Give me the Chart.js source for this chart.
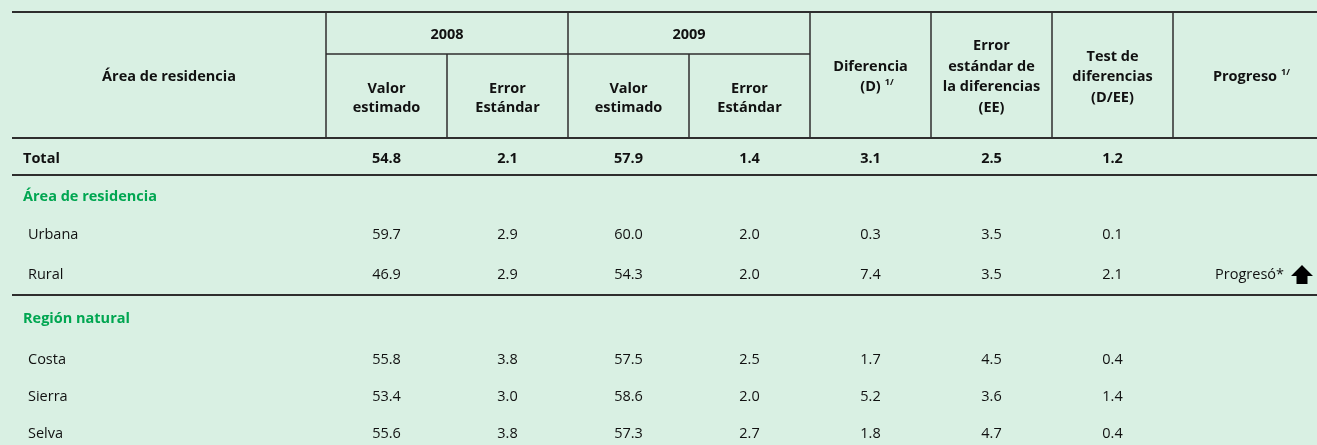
<!DOCTYPE html>
<html>
<head>
<meta charset="utf-8">
<script src="https://cdn.jsdelivr.net/npm/chart.js@4"></script>
<style>
  body { margin: 0; background: #d9f0e3; }
  #wrap { width: 1317px; height: 445px; }
</style>
</head>
<body>
<div id="wrap"><canvas id="tabla"></canvas></div>
<script>
const categories = ["Total", "Área de residencia", "Urbana", "Rural", "Región natural", "Costa", "Sierra", "Selva"];
const rowKinds = ["total", "section", "item", "item", "section", "item", "item", "item"];

const valor2008 = [54.8, null, 59.7, 46.9, null, 55.8, 53.4, 55.6];
const error2008 = [2.1, null, 2.9, 2.9, null, 3.8, 3.0, 3.8];
const valor2009 = [57.9, null, 60.0, 54.3, null, 57.5, 58.6, 57.3];
const error2009 = [1.4, null, 2.0, 2.0, null, 2.5, 2.0, 2.7];
const diferencia = [3.1, null, 0.3, 7.4, null, 1.7, 5.2, 1.8];
const errorDiferencia = [2.5, null, 3.5, 3.5, null, 4.5, 3.6, 4.7];
const testDiferencia = [1.2, null, 0.1, 2.1, null, 0.4, 1.4, 0.4];
const progreso = ["", null, "", "Progresó*", null, "", "", ""];

const years = ["2008", "2009"];
const headerTitles = [
  ["Área de residencia"],
  ["Valor", "estimado"],
  ["Error", "Estándar"],
  ["Valor", "estimado"],
  ["Error", "Estándar"],
  ["Diferencia", "(D)"],
  ["Error", "estándar de", "la diferencias", "(EE)"],
  ["Test de", "diferencias", "(D/EE)"],
  ["Progreso"]
];

// layout (pixels on the linear scales)
const colEdges = [12, 326, 447, 568, 689, 810, 931, 1052, 1173, 1317];
const rowY = [159, 197, 235, 275, 319, 360, 397, 434];
const lineTop = 12;
const lineYear = 54;
const lineHead = 138;
const rowRules = [175, 295];

const FONT = "'Open Sans', 'Noto Sans', sans-serif";
const SIZE = "14.5px ";
const TEXT = "#111111";
const GREEN = "#00a651";
const RULE = "#2e2e2e";

const valueColumns = [valor2008, error2008, valor2009, error2009, diferencia, errorDiferencia, testDiferencia];

function sup(ctx, text, x, y) {
  ctx.save();
  ctx.font = "bold 9px " + FONT;
  ctx.textAlign = "left";
  ctx.fillText(text, x, y - 5);
  ctx.restore();
}

const tablePlugin = {
  id: "tabla",
  beforeDraw(chart) {
    const ctx = chart.ctx;
    ctx.save();
    ctx.fillStyle = "#d9f0e3";
    ctx.fillRect(0, 0, chart.width, chart.height);
    ctx.restore();
  },
  afterDraw(chart) {
    const ctx = chart.ctx;
    const xs = chart.scales.x;
    const ys = chart.scales.y;
    const px = (v) => xs.getPixelForValue(v);
    const py = (v) => ys.getPixelForValue(v);
    const right = px(1317);

    ctx.save();
    ctx.strokeStyle = RULE;

    // horizontal rules
    ctx.lineWidth = 2;
    [lineTop, lineHead].concat(rowRules).forEach((y) => {
      ctx.beginPath();
      ctx.moveTo(px(colEdges[0]), py(y));
      ctx.lineTo(right, py(y));
      ctx.stroke();
    });
    ctx.lineWidth = 1.5;
    ctx.beginPath();
    ctx.moveTo(px(colEdges[1]), py(lineYear));
    ctx.lineTo(px(colEdges[5]), py(lineYear));
    ctx.stroke();

    // vertical rules in header
    colEdges.slice(1, 9).forEach((x, i) => {
      const top = (i === 1 || i === 3) ? lineYear : lineTop;
      ctx.beginPath();
      ctx.moveTo(px(x), py(top));
      ctx.lineTo(px(x), py(lineHead));
      ctx.stroke();
    });

    // header text
    ctx.fillStyle = TEXT;
    ctx.textBaseline = "middle";
    ctx.textAlign = "center";
    ctx.font = "bold " + SIZE + FONT;
    years.forEach((yr, i) => {
      const cx = (colEdges[1 + i * 2] + colEdges[3 + i * 2]) / 2;
      ctx.fillText(yr, px(cx), py(35));
    });
    headerTitles.forEach((lines, i) => {
      const cx = (colEdges[i] + colEdges[i + 1]) / 2;
      const lh = i >= 5 ? 20.5 : 19.5;
      const mid = (i >= 1 && i <= 4) ? 98.5 : 77;
      const y0 = mid - (lines.length - 1) * lh / 2;
      lines.forEach((t, k) => {
        ctx.fillText(t, px(cx), py(y0 + k * lh));
        if ((i === 5 && k === 1) || i === 8) {
          const w = ctx.measureText(t).width;
          sup(ctx, "1/", px(cx) + w / 2 + 4, py(y0 + k * lh));
        }
      });
    });

    // body rows
    categories.forEach((name, r) => {
      const kind = rowKinds[r];
      const y = py(rowY[r]);
      ctx.textAlign = "left";
      if (kind === "section") {
        ctx.fillStyle = GREEN;
        ctx.font = "bold " + SIZE + FONT;
        ctx.fillText(name, px(23), y);
        return;
      }
      ctx.fillStyle = TEXT;
      ctx.font = (kind === "total" ? "bold " : "") + SIZE + FONT;
      ctx.fillText(name, px(kind === "total" ? 23 : 28), y);

      ctx.textAlign = "center";
      valueColumns.forEach((col, c) => {
        const cx = (colEdges[c + 1] + colEdges[c + 2]) / 2;
        ctx.fillText(col[r].toFixed(1), px(cx), y);
      });

      if (progreso[r]) {
        ctx.textAlign = "right";
        ctx.font = SIZE + FONT;
        ctx.fillText(progreso[r], px(1284), y);
        // up arrow
        const ax = px(1302);
        ctx.beginPath();
        ctx.moveTo(ax, y - 10);
        ctx.lineTo(ax + 11, y + 1);
        ctx.lineTo(ax + 5.5, y + 1);
        ctx.lineTo(ax + 5.5, y + 9);
        ctx.lineTo(ax - 5.5, y + 9);
        ctx.lineTo(ax - 5.5, y + 1);
        ctx.lineTo(ax - 11, y + 1);
        ctx.closePath();
        ctx.fillStyle = "#000";
        ctx.fill();
      }
    });
    ctx.restore();
  }
};

new Chart(document.getElementById("tabla"), {
  type: "scatter",
  data: { labels: categories, datasets: [] },
  options: {
    responsive: true,
    maintainAspectRatio: false,
    animation: false,
    layout: { padding: 0 },
    plugins: { legend: { display: false }, tooltip: { enabled: false } },
    scales: {
      x: { type: "linear", min: 0, max: 1317, display: false },
      y: { type: "linear", min: 0, max: 445, reverse: true, display: false }
    }
  },
  plugins: [tablePlugin]
});
</script>
</body>
</html>
